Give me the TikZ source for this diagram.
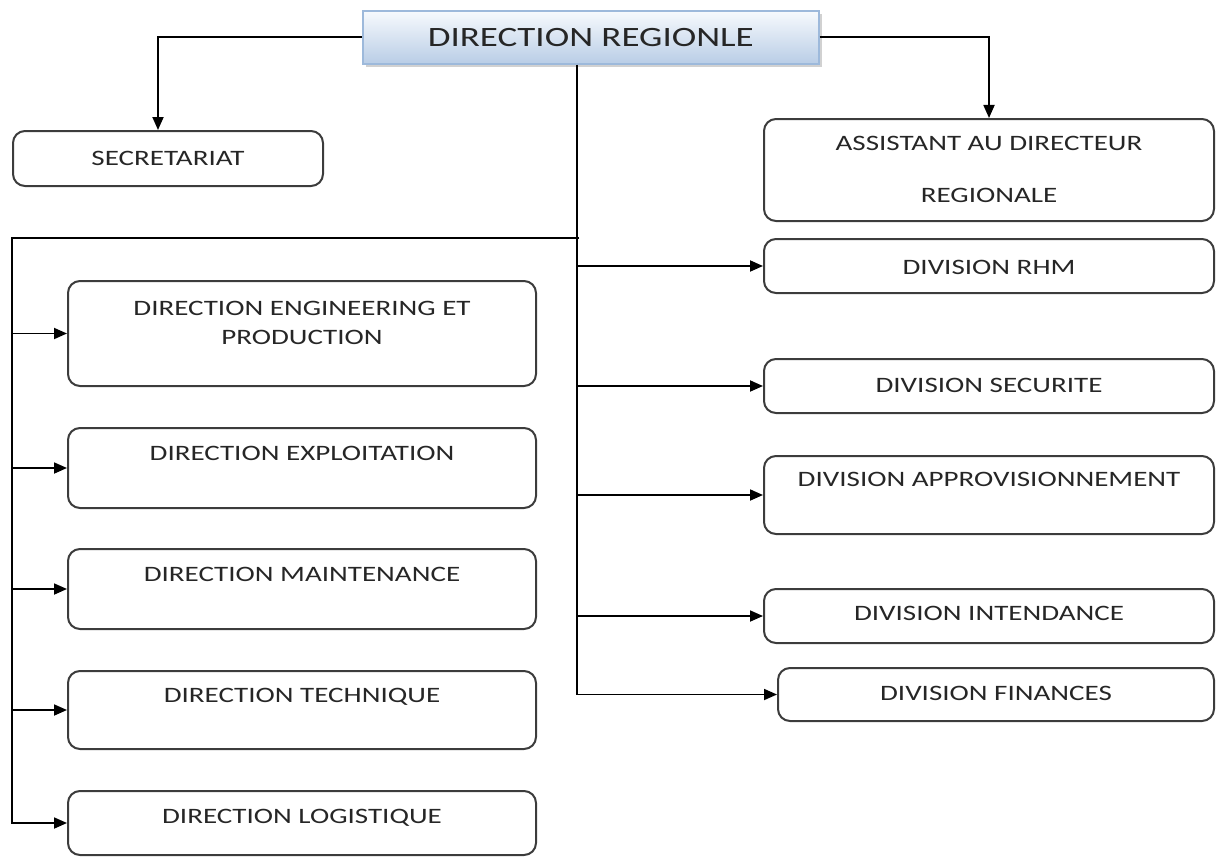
\documentclass[tikz,border=0pt]{standalone}
\usepackage{fontspec}
\setmainfont{Carlito}[FakeStretch=1.32]
\usetikzlibrary{arrows.meta,shadows}

\definecolor{boxline}{HTML}{3C3C3C}
\definecolor{titleline}{HTML}{9DB9DB}
\definecolor{titletop}{HTML}{F7FAFD}
\definecolor{titlebot}{HTML}{B9CDE6}

\tikzset{
  box/.style={draw=boxline, line width=1pt, rounded corners=6pt, anchor=north west,
    inner sep=0pt, align=center, text=black!85, font=\fontsize{11}{14.5}\selectfont},
  leftbox/.style={box, minimum width=234pt},
  rightbox/.style={box, minimum width=225pt},
  line/.style={line width=0.9pt, black},
  conn/.style={line, -{Triangle[length=6.5pt,width=5.5pt]}}
}

\begin{document}
\begin{tikzpicture}[x=0.5pt,y=-0.5pt]
\useasboundingbox (0,0) rectangle (1219,856);

% top of the chart
\node[draw=titleline, line width=0.8pt, top color=titletop, bottom color=titlebot,
  drop shadow={shadow xshift=1.5pt, shadow yshift=-1.5pt, fill=black!40, opacity=.45},
  anchor=north west, minimum width=228pt, minimum height=26.5pt, inner sep=0pt,
  text=black!85, font=\fontsize{14}{16}\selectfont] (dr) at (362,10) {DIRECTION REGIONLE};

\node[box, minimum width=155pt, minimum height=27.5pt, text height=17pt, text depth=10.5pt] (sec) at (12,130) {SECRETARIAT};
\node[rightbox, minimum height=51pt, text height=41.5pt, text depth=9.5pt] (asst) at (763,118) {ASSISTANT AU DIRECTEUR\\[11.5pt]REGIONALE};

% divisions
\node[rightbox, minimum height=27pt, text height=17.5pt, text depth=9.5pt] (rhm) at (763,238) {DIVISION RHM};
\node[rightbox, minimum height=27pt, text height=16.5pt, text depth=10.5pt] (secu) at (763,358) {DIVISION SECURITE};
\node[rightbox, minimum height=39pt, text height=15pt, text depth=24pt] (appro) at (763,455) {DIVISION APPROVISIONNEMENT};
\node[rightbox, minimum height=27pt, text height=15.5pt, text depth=11.5pt] (inten) at (763,588) {DIVISION INTENDANCE};
\node[box, minimum width=218pt, minimum height=26.5pt, text height=16pt, text depth=10.5pt] (fin) at (777,667) {DIVISION FINANCES};

% directions
\node[leftbox, minimum height=52.5pt, text height=31.5pt, text depth=21pt] (eng) at (67,280) {DIRECTION ENGINEERING ET\\PRODUCTION};
\node[leftbox, minimum height=40pt, text height=16pt, text depth=24pt] (expl) at (67,427) {DIRECTION EXPLOITATION};
\node[leftbox, minimum height=40pt, text height=16pt, text depth=24pt] (maint) at (67,548) {DIRECTION MAINTENANCE};
\node[leftbox, minimum height=39pt, text height=15.5pt, text depth=23.5pt] (tech) at (67,670) {DIRECTION TECHNIQUE};
\node[leftbox, minimum height=32pt, text height=16pt, text depth=16pt] (logi) at (67,790) {DIRECTION LOGISTIQUE};

\coordinate (trunk) at ([xshift=-7pt]dr.south);
\coordinate (split) at (576,238);
\coordinate (lt) at (12,238);

\draw[conn] (dr.west) -| ([xshift=-5pt]sec.north);
\draw[conn] (dr.east) -| (asst.north);

\draw[conn] (trunk) |- (fin.west);
\draw[conn] (trunk |- rhm.west) -- (rhm.west);
\draw[conn] (trunk |- secu.west) -- (secu.west);
\draw[conn] (trunk |- appro.west) -- (appro.west);
\draw[conn] (trunk |- inten.west) -- (inten.west);

\draw[conn] ([xshift=1.5pt]split) -- (lt) |- (logi.west);
\draw[conn] (lt |- eng.west) -- (eng.west);
\draw[conn] (lt |- expl.west) -- (expl.west);
\draw[conn] (lt |- maint.west) -- (maint.west);
\draw[conn] (lt |- tech.west) -- (tech.west);
\end{tikzpicture}
\end{document}
